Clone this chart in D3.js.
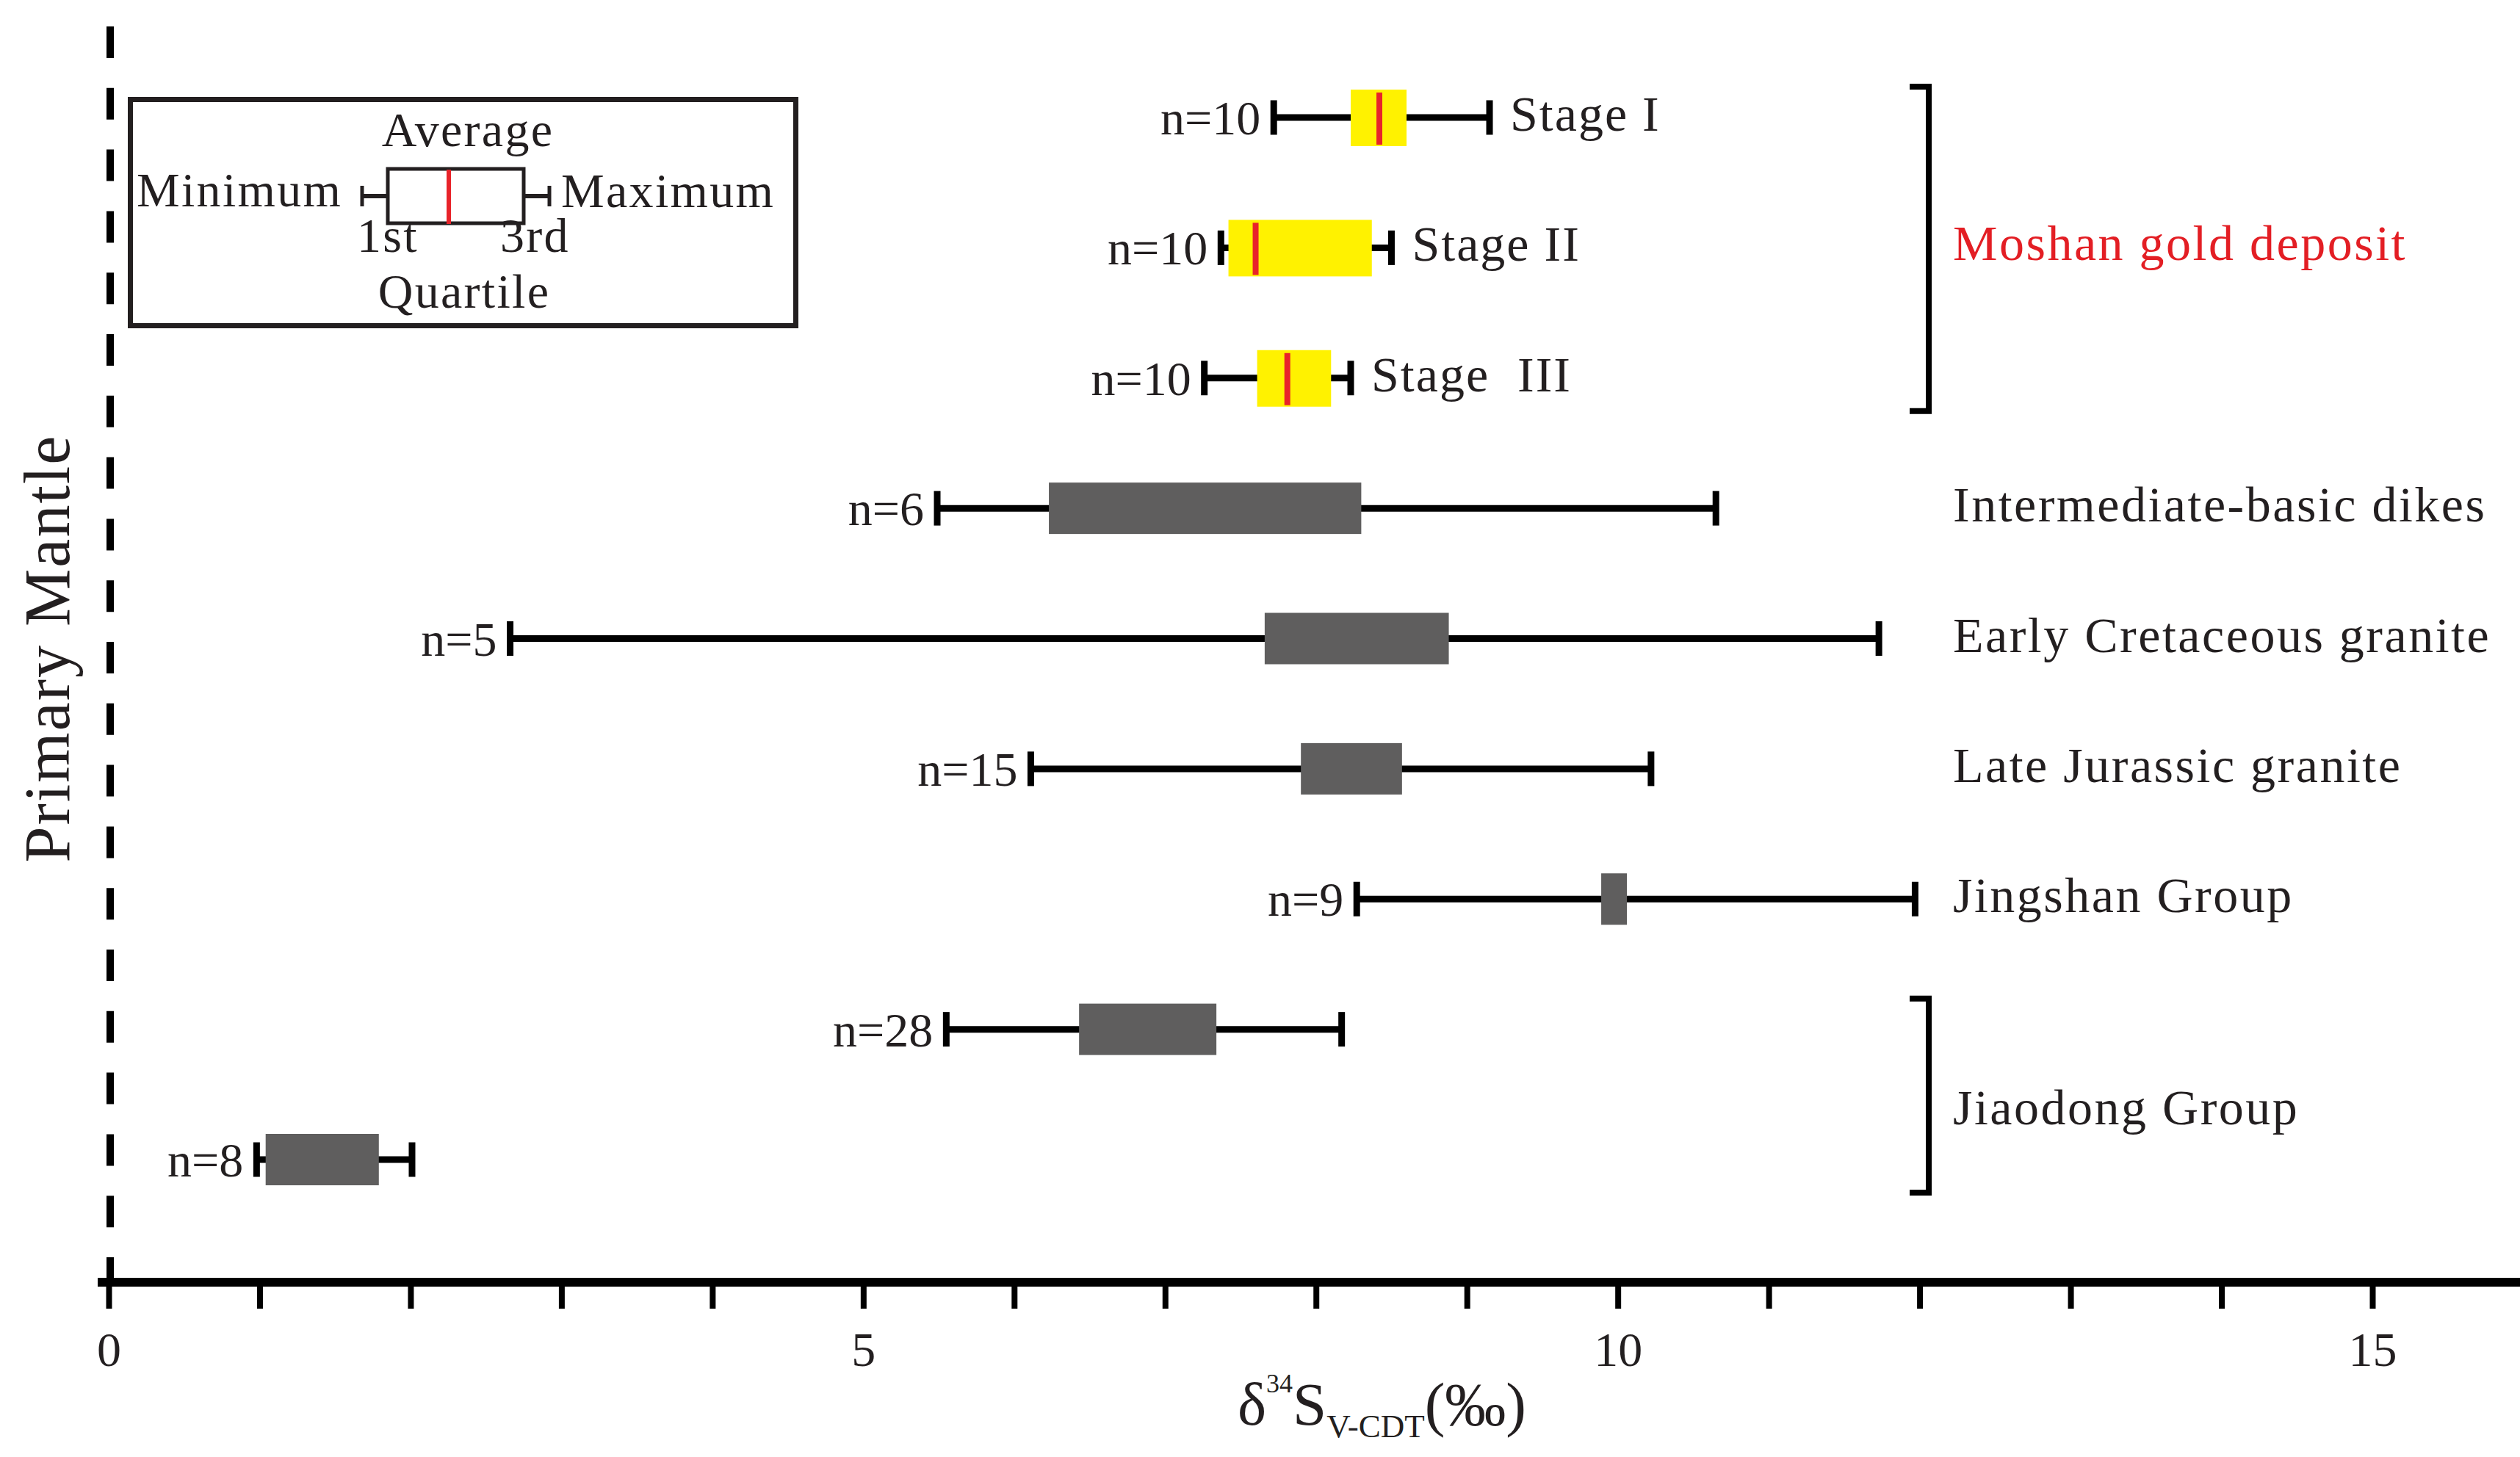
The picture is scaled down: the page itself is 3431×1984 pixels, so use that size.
<!DOCTYPE html>
<html><head><meta charset="utf-8">
<script src="https://cdn.jsdelivr.net/npm/d3@7"></script>
<style>html,body{margin:0;padding:0;background:#fff;} svg{display:block;}</style>
</head><body><svg id="chart" width="3431" height="1984"></svg>
<script>
// ---- data ----
const rowKeys = ["Stage I","Stage II","Stage III","Intermediate-basic dikes","Early Cretaceous granite","Late Jurassic granite","Jingshan Group","Jiaodong Group A","Jiaodong Group B"];
const nCounts = [10,10,10,6,5,15,9,28,8];
const minVals = [7.72,7.37,7.26,5.49,2.66,6.11,8.27,5.55,0.98];
const q1Vals  = [8.23,7.42,7.61,6.23,7.66,7.90,9.89,6.43,1.04];
const q3Vals  = [8.60,8.37,8.10,8.30,8.88,8.57,10.06,7.34,1.79];
const maxVals = [9.15,8.50,8.23,10.65,11.73,10.22,11.97,8.17,2.01];
const meanVals = [8.42,7.60,7.81,null,null,null,null,null,null];
const isMoshan = [true,true,true,false,false,false,false,false,false];
const stageLabels = ["Stage I","Stage II","Stage  III"];
const sideLabels = [null,null,null,"Intermediate-basic dikes","Early Cretaceous granite","Late Jurassic granite","Jingshan Group",null,null];
const groupBrackets = [
  {label:"Moshan gold deposit", from:0, to:2, red:true},
  {label:"Jiaodong Group", from:7, to:8, red:false}
];
const xTicks = [0,1,2,3,4,5,6,7,8,9,10,11,12,13,14,15];
const xTickLabels = [0,5,10,15];
const yLabel = "Primary Mantle";

// ---- layout ----
const W = 3431, H = 1984;
const FONT = "'Liberation Serif', 'DejaVu Serif', serif";
const TXT = "#231f20";
const svg = d3.select("#chart");
svg.append("rect").attr("width",W).attr("height",H).attr("fill","#fff");

const x = d3.scaleLinear().domain([0,15]).range([148,3230]);
const y = d3.scalePoint().domain(rowKeys).range([160,1579]);
const axisY = 1746;

// primary mantle dashed line
svg.append("line")
  .attr("x1", x(0)+2).attr("x2", x(0)+2)
  .attr("y1", 36).attr("y2", axisY-6)
  .attr("stroke","#000").attr("stroke-width",10)
  .attr("stroke-dasharray","43 40.8");

svg.append("text")
  .attr("transform",`translate(94,883) rotate(-90)`)
  .attr("text-anchor","middle")
  .attr("font-family",FONT).attr("font-size",88)
  .attr("letter-spacing",2)
  .attr("fill",TXT).text(yLabel);

// x axis
svg.append("line")
  .attr("x1", x(0)-15).attr("x2", W)
  .attr("y1", axisY).attr("y2", axisY)
  .attr("stroke","#000").attr("stroke-width",12);

const axis = d3.axisBottom(x).tickValues(xTicks).tickSize(30).tickPadding(31)
  .tickFormat(d => xTickLabels.includes(d) ? String(d) : "");
const gAxis = svg.append("g").attr("transform",`translate(0,${axisY+6})`).call(axis);
gAxis.select(".domain").remove();
gAxis.selectAll(".tick line").attr("stroke","#000").attr("stroke-width",8);
gAxis.selectAll(".tick text").attr("font-family",FONT).attr("font-size",66).attr("fill",TXT);

// axis title
const title = svg.append("text").attr("font-family",FONT).attr("fill",TXT)
  .attr("x",1685).attr("y",1940);
title.append("tspan").attr("font-size",83).text("δ");
title.append("tspan").attr("font-size",36).attr("dy",-44).text("34");
title.append("tspan").attr("font-size",83).attr("dy",44).text("S");
title.append("tspan").attr("font-size",45).attr("dy",17).text("V-CDT");
title.append("tspan").attr("font-size",83).attr("dy",-17).text("(‰)");

// rows
const rows = rowKeys.map((k,i)=>({key:k,i,n:nCounts[i],min:minVals[i],q1:q1Vals[i],q3:q3Vals[i],max:maxVals[i],mean:meanVals[i],moshan:isMoshan[i]}));
const g = svg.selectAll("g.row").data(rows).join("g").attr("class","row");

g.append("line")
  .attr("x1",d=>x(d.min)).attr("x2",d=>x(d.max))
  .attr("y1",d=>y(d.key)).attr("y2",d=>y(d.key))
  .attr("stroke","#000").attr("stroke-width",9);
g.append("line")
  .attr("x1",d=>x(d.min)).attr("x2",d=>x(d.min))
  .attr("y1",d=>y(d.key)-23.5).attr("y2",d=>y(d.key)+23.5)
  .attr("stroke","#000").attr("stroke-width",9);
g.append("line")
  .attr("x1",d=>x(d.max)).attr("x2",d=>x(d.max))
  .attr("y1",d=>y(d.key)-23.5).attr("y2",d=>y(d.key)+23.5)
  .attr("stroke","#000").attr("stroke-width",9);
g.append("rect")
  .attr("x",d=>x(d.q1)).attr("width",d=>x(d.q3)-x(d.q1))
  .attr("y",d=>y(d.key)-(d.moshan?38:35)).attr("height",d=>d.moshan?77:70)
  .attr("fill",d=>d.moshan?"#fff200":"#5f5e5e");
g.filter(d=>d.mean!=null).append("line")
  .attr("x1",d=>x(d.mean)).attr("x2",d=>x(d.mean))
  .attr("y1",d=>y(d.key)-34).attr("y2",d=>y(d.key)+37)
  .attr("stroke","#e8232a").attr("stroke-width",8);
g.append("text")
  .attr("x",d=>x(d.min)-18).attr("y",d=>y(d.key)+23)
  .attr("text-anchor","end")
  .attr("font-family",FONT).attr("font-size",66).attr("fill",TXT)
  .text(d=>"n="+d.n);

// stage labels
g.filter(d=>d.i<3).append("text")
  .attr("x",d=>x(d.max)+28).attr("y",d=>y(d.key)+18)
  .attr("font-family",FONT).attr("font-size",68).attr("letter-spacing",2)
  .attr("fill",TXT).style("white-space","pre")
  .text(d=>stageLabels[d.i]);

// side labels
g.filter(d=>sideLabels[d.i]).append("text")
  .attr("x",2659).attr("y",d=>y(d.key)+18)
  .attr("font-family",FONT).attr("font-size",68).attr("letter-spacing",2.5)
  .attr("fill",TXT).text(d=>sideLabels[d.i]);

// brackets
groupBrackets.forEach(b=>{
  const top = y(rowKeys[b.from]) - 42;
  const bot = y(rowKeys[b.to]) + 45;
  svg.append("path")
    .attr("d",`M2600,${top} H2626 V${bot} H2600`)
    .attr("fill","none").attr("stroke","#000").attr("stroke-width",8);
  const ty = b.red ? y(rowKeys[1]) + 17 : (y(rowKeys[b.from])+y(rowKeys[b.to]))/2 + 41;
  svg.append("text").attr("x",2659).attr("y",ty)
    .attr("font-family",FONT).attr("font-size",68).attr("letter-spacing",2.5)
    .attr("fill",b.red?"#e31e24":TXT).text(b.label);
});

// legend
const lg = svg.append("g");
lg.append("rect").attr("x",177.5).attr("y",135.5).attr("width",906).attr("height",308)
  .attr("fill","none").attr("stroke",TXT).attr("stroke-width",7);
lg.append("line").attr("x1",491).attr("x2",526).attr("y1",267).attr("y2",267).attr("stroke",TXT).attr("stroke-width",6);
lg.append("line").attr("x1",493).attr("x2",493).attr("y1",253).attr("y2",281).attr("stroke",TXT).attr("stroke-width",5);
lg.append("line").attr("x1",715).attr("x2",750).attr("y1",267).attr("y2",267).attr("stroke",TXT).attr("stroke-width",6);
lg.append("line").attr("x1",748).attr("x2",748).attr("y1",253).attr("y2",281).attr("stroke",TXT).attr("stroke-width",5);
lg.append("rect").attr("x",528).attr("y",230).attr("width",185).attr("height",74)
  .attr("fill","#fff").attr("stroke",TXT).attr("stroke-width",5);
lg.append("line").attr("x1",611).attr("x2",611).attr("y1",231).attr("y2",305).attr("stroke","#e8232a").attr("stroke-width",6);
const legText = [
  {t:"Average", x:637, y:199, a:"middle"},
  {t:"Minimum", x:186, y:281, a:"start"},
  {t:"Maximum", x:764, y:282, a:"start"},
  {t:"1st", x:486, y:343, a:"start"},
  {t:"3rd", x:681, y:343, a:"start"},
  {t:"Quartile", x:632, y:419, a:"middle"}
];
lg.selectAll("text.leg").data(legText).join("text").attr("class","leg")
  .attr("x",d=>d.x).attr("y",d=>d.y).attr("text-anchor",d=>d.a)
  .attr("font-family",FONT).attr("font-size",66).attr("letter-spacing",2.3)
  .attr("fill",TXT).text(d=>d.t);
</script></body></html>
